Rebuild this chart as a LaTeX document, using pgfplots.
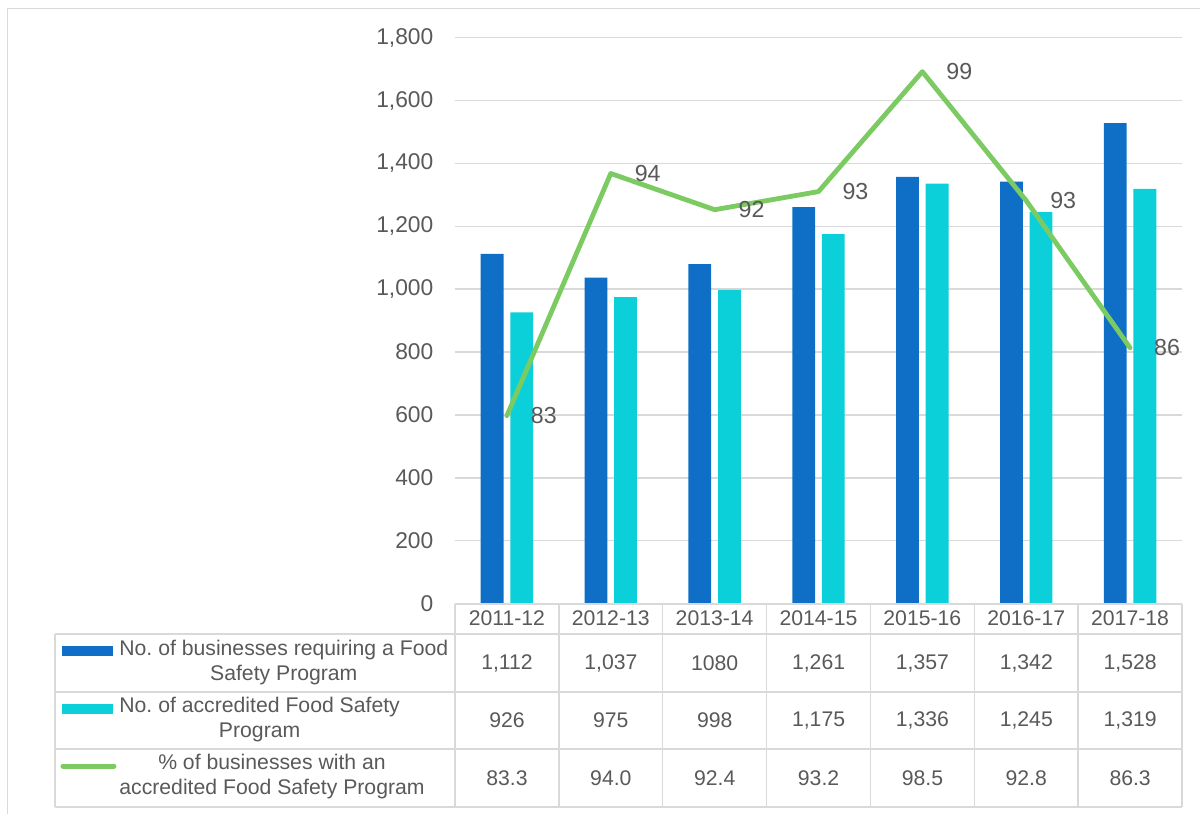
\documentclass[border=0pt]{standalone}
\usepackage{fontspec}
\setmainfont{Liberation Sans}
\usepackage{pgfplots}
\pgfplotsset{compat=1.18}
\definecolor{cBlue}{HTML}{0F6FC6}
\definecolor{cCyan}{HTML}{0BD0D9}
\definecolor{cGreen}{HTML}{7CCA62}
\definecolor{cText}{HTML}{595959}
\definecolor{cGrid}{HTML}{D9D9D9}
\begin{document}
\begin{tikzpicture}
\path[use as bounding box] (-227.5pt,-105.25pt) rectangle (372.5pt,301.75pt);
\begin{axis}[
  at={(0,0)}, anchor=south west,
  scale only axis, width=363.5pt, height=282.9pt,
  xmin=-0.5, xmax=6.5, ymin=0, ymax=1800,
  ybar=3.4pt, bar width=11.4pt,
  axis line style={draw=none},
  ytick={0,200,...,1800},
  xtick={0,...,6},
  xticklabels={2011-12,2012-13,2013-14,2014-15,2015-16,2016-17,2017-18},
  major tick length=0pt,
  ymajorgrids, grid style={cGrid, line width=0.75pt},
  tick label style={font=\fontsize{11.4}{13}\selectfont, text=cText},
  xticklabel style={font=\fontsize{10.6}{12}\selectfont},
  yticklabel style={xshift=-7.3pt},
  /pgf/number format/1000 sep={,},
  /pgf/number format/assume math mode=true,
]
\addplot[fill=cBlue, draw=none] coordinates {(0,1112) (1,1037) (2,1080) (3,1261) (4,1357) (5,1342) (6,1528)};
\addplot[fill=cCyan, draw=none] coordinates {(0,926) (1,975) (2,998) (3,1175) (4,1336) (5,1245) (6,1319)};
\end{axis}
\begin{axis}[
  at={(0,0)}, anchor=south west,
  scale only axis, width=363.5pt, height=282.9pt,
  xmin=-0.5, xmax=6.5, ymin=75, ymax=100,
  hide axis, clip=false,
]
\addplot[cGreen, line width=2.4pt, line join=round, line cap=round,
  nodes near coords, point meta=explicit symbolic,
  nodes near coords style={anchor=west, xshift=7.5pt, text=cText, font=\fontsize{11.6}{13}\selectfont}]
  coordinates {(0,83.3)[83] (1,94.0)[94] (2,92.4)[92] (3,93.2)[93] (4,98.5)[99] (5,92.8)[93] (6,86.3)[86]};
\end{axis}
\begin{scope}[x=0.5pt, y=-0.5pt, xshift=-227.5pt, yshift=301.75pt]
  \draw[cGrid, line width=0.5pt] (8,814)--(8,9)--(1200,9);
  \begin{scope}[cGrid, line width=0.75pt]
    \draw (455,604)--(1182,604);
    \draw (55,634)--(1182,634);
    \draw (55,692)--(1182,692);
    \draw (55,749)--(1182,749);
    \draw (55,807)--(1182,807);
    \draw (55,634)--(55,807);
    \foreach \k in {0,...,7} \draw ({455+\k*103.857},604)--({455+\k*103.857},807);
  \end{scope}
  \begin{scope}[font=\fontsize{10.6}{12.5}\selectfont, text=cText]
    \foreach \v [count=\i from 0] in {{1,112},{1,037},{1080},{1,261},{1,357},{1,342},{1,528}}
      \node at ({507+\i*103.857},663) {\v};
    \foreach \v [count=\i from 0] in {{926},{975},{998},{1,175},{1,336},{1,245},{1,319}}
      \node at ({507+\i*103.857},720.5) {\v};
    \foreach \v [count=\i from 0] in {{83.3},{94.0},{92.4},{93.2},{98.5},{92.8},{86.3}}
      \node at ({507+\i*103.857},778) {\v};
    \node[anchor=west, align=center, inner sep=0pt] at (119,663) {No.\ of businesses requiring a Food\\Safety Program};
    \node[anchor=west, align=center, inner sep=0pt] at (119,720) {No.\ of accredited Food Safety\\Program};
    \node[anchor=west, align=center, inner sep=0pt] at (119,777) {\% of businesses with an\\accredited Food Safety Program};
  \end{scope}
  \fill[cBlue] (62,646) rectangle (113,656);
  \fill[cCyan] (62,704) rectangle (113,714);
  \draw[cGreen, line width=2.5pt, line cap=round] (63,766)--(114,766);
\end{scope}
\end{tikzpicture}
\end{document}
